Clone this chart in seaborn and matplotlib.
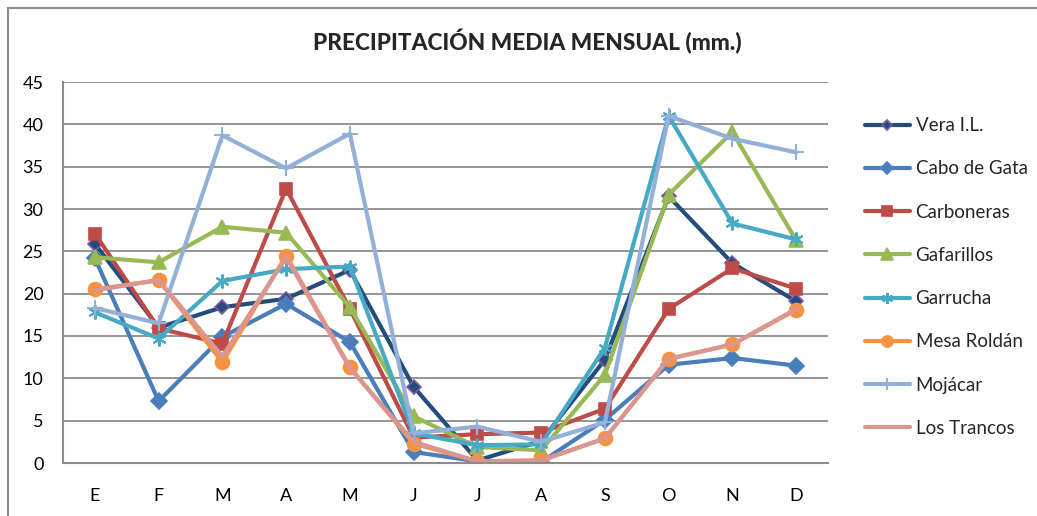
import numpy as np
import pandas as pd
import matplotlib
matplotlib.use("Agg")
import matplotlib.pyplot as plt
import seaborn as sns
from matplotlib.patches import Rectangle

# data (mm)
months = ["E", "F", "M", "A", "M", "J", "J", "A", "S", "O", "N", "D"]
vera = [25.9, 16.0, 18.4, 19.4, 22.8, 9.0, 0.3, 2.6, 12.2, 31.5, 23.6, 19.1]
cabo_gata = [24.2, 7.3, 14.9, 18.8, 14.3, 1.3, 0.2, 0.1, 5.1, 11.6, 12.4, 11.5]
carboneras = [27.1, 15.9, 14.1, 32.4, 18.2, 3.0, 3.4, 3.6, 6.4, 18.2, 23.0, 20.6]
gafarillos = [24.3, 23.7, 27.9, 27.2, 18.4, 5.5, 1.9, 1.5, 10.4, 31.7, 39.1, 26.3]
garrucha = [17.8, 14.7, 21.5, 22.9, 23.2, 3.5, 2.1, 2.2, 13.6, 41.0, 28.3, 26.4]
mesa_roldan = [20.5, 21.6, 11.9, 24.5, 11.3, 2.3, 0.2, 0.3, 2.9, 12.3, 14.0, 18.1]
mojacar = [18.3, 16.5, 38.7, 34.8, 38.9, 3.5, 4.3, 2.5, 4.8, 41.0, 38.3, 36.7]
los_trancos = [20.4, 21.6, 12.6, 24.3, 11.2, 2.5, 0.2, 0.3, 2.9, 12.3, 14.0, 18.2]

series = {
    "Vera I.L.": vera,
    "Cabo de Gata": cabo_gata,
    "Carboneras": carboneras,
    "Gafarillos": gafarillos,
    "Garrucha": garrucha,
    "Mesa Roldán": mesa_roldan,
    "Mojácar": mojacar,
    "Los Trancos": los_trancos,
}

# style per series: color, marker, marker size, edge color
styles = {
    "Vera I.L.": ("#244C7D", "D", 7, "#7E5BA0"),
    "Cabo de Gata": ("#4A7EBB", "D", 8, "#4A7EBB"),
    "Carboneras": ("#BE4B48", "s", 9, "#BE4B48"),
    "Gafarillos": ("#98B954", "^", 10, "#98B954"),
    "Garrucha": ("#46AAC5", (6, 2, 0), 10, "#46AAC5"),
    "Mesa Roldán": ("#F59243", "o", 10, "#F59243"),
    "Mojácar": ("#93B1D8", "+", 11, "#93B1D8"),
    "Los Trancos": ("#DA9694", None, 0, "#DA9694"),
}

sns.set_theme(style="white")
plt.rcParams["font.family"] = ["Lato", "DejaVu Sans"]

fig = plt.figure(figsize=(10.37, 5.16), dpi=100)
ax = fig.add_axes([63 / 1037, 53 / 516, 765 / 1037, 381 / 516])

x = np.arange(len(months))
for name, vals in series.items():
    color, marker, ms, mec = styles[name]
    sns.lineplot(x=x, y=vals, ax=ax, color=color, linewidth=3.0,
                 marker=marker, markersize=ms, markeredgecolor=mec,
                 markeredgewidth=1.2 if marker != "+" and marker != (6, 2, 0) else 1.5,
                 label=name)

ax.set_xlim(-0.5, 11.5)
ax.set_ylim(0, 45)
ax.set_yticks(range(0, 46, 5))
ax.set_xticks(x)
ax.set_xticklabels(months)
ax.tick_params(axis="both", length=0, labelsize=13, colors="black")
ax.tick_params(axis="y", pad=14)
ax.tick_params(axis="x", pad=18)
ax.yaxis.grid(True, color="#8C8C8C", linewidth=1.3)
ax.set_axisbelow(True)
for s in ["top", "right"]:
    ax.spines[s].set_visible(False)
for s in ["left", "bottom"]:
    ax.spines[s].set_color("#8C8C8C")
    ax.spines[s].set_linewidth(1.5)
ax.set_xlabel("")
ax.set_ylabel("")

fig.text(527 / 1037, 1 - 42 / 516, "PRECIPITACIÓN MEDIA MENSUAL (mm.)",
         ha="center", va="center", fontsize=16.3, fontweight="black")

ax.legend(loc="center left", bbox_to_anchor=(848 / 1037, 0.463),
          bbox_transform=fig.transFigure, frameon=False, fontsize=13.5,
          handlelength=2.4, labelspacing=1.4, handletextpad=0.3,
          markerscale=0.8)

# outer chart frame
fig.patches.append(Rectangle((8 / 1037, -0.05), 1.1, 1 - 8 / 516 + 0.05,
                             transform=fig.transFigure, fill=False,
                             edgecolor="#8C8C8C", linewidth=1.5))

fig.savefig("out.png", dpi=100)
